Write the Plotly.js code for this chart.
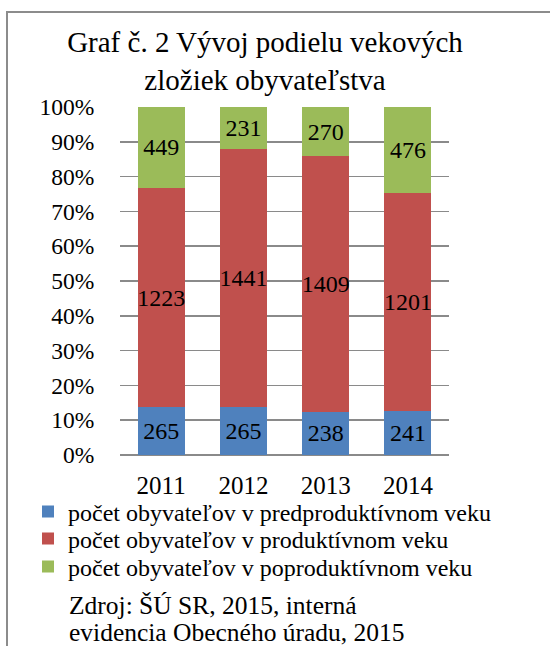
<!DOCTYPE html>
<html>
<head>
<meta charset="utf-8">
<script src="https://cdn.plot.ly/plotly-3.0.1.min.js"></script>
<style>
  html, body { margin: 0; padding: 0; background: #fff; }
  #chart { width: 550px; height: 646px; }
</style>
</head>
<body>
<div id="chart"></div>
<script>
const years = ['2011', '2012', '2013', '2014'];
const seriesNames = [
  'počet obyvateľov v predproduktívnom veku',
  'počet obyvateľov v produktívnom veku',
  'počet obyvateľov v poproduktívnom veku'
];
const predproduktivny = [265, 265, 238, 241];
const produktivny = [1223, 1441, 1409, 1201];
const poproduktivny = [449, 231, 270, 476];
const colors = ['#4F81BD', '#C0504D', '#9BBB59'];
const titleText = 'Graf č. 2 Vývoj podielu vekových<br>zložiek obyvateľstva';
const sourceLines = ['Zdroj: ŠÚ SR, 2015, interná', 'evidencia Obecného úradu, 2015'];

const serif = '"Liberation Serif", "DejaVu Serif", serif';
const values = [predproduktivny, produktivny, poproduktivny];
const legendIds = ['legend', 'legend2', 'legend3'];

const traces = values.map((v, i) => ({
  type: 'bar',
  name: seriesNames[i],
  legend: legendIds[i],
  x: years,
  y: v,
  text: v.map(String),
  textposition: 'inside',
  insidetextanchor: 'middle',
  textangle: 0,
  constraintext: 'none',
  textfont: { family: serif, size: 24, color: '#000' },
  marker: { color: colors[i], line: { width: 0 } },
  hoverinfo: 'none'
}));

// plot area: x 120..449, y 107..455
const L = 120, R = 101, T = 107, B = 191;
const PW = 550 - L - R, PH = 646 - T - B;
const px = v => (v - L) / PW;
const py = v => (646 - B - v) / PH;

const legendRowsY = [512, 539, 567];
const legendCommon = i => ({
  orientation: 'v',
  x: px(28), xanchor: 'left',
  y: py(legendRowsY[i]), yanchor: 'middle',
  font: { family: serif, size: 24, color: '#000' },
  bgcolor: 'rgba(0,0,0,0)', borderwidth: 0,
  itemclick: false, itemdoubleclick: false
});

const layout = {
  width: 550, height: 646,
  margin: { l: L, r: R, t: T, b: B, pad: 0 },
  paper_bgcolor: '#fff', plot_bgcolor: '#fff',
  barmode: 'stack',
  barnorm: 'percent',
  bargap: 0.43,
  showlegend: true,
  font: { family: serif, color: '#000' },
  title: {
    text: titleText,
    font: { family: serif, size: 29, color: '#000' },
    x: px(265), xref: 'paper', xanchor: 'center',
    y: 1 - 52 / 646, yref: 'container', yanchor: 'middle'
  },
  xaxis: {
    type: 'category',
    showline: false, showgrid: false, zeroline: false,
    ticks: 'outside', ticklen: 8, tickcolor: 'rgba(0,0,0,0)',
    tickfont: { family: serif, size: 25, color: '#000' }
  },
  yaxis: {
    range: [0, 100], dtick: 10, ticksuffix: '%',
    showgrid: true, gridcolor: '#8a8a8a', gridwidth: 1.5,
    zeroline: true, zerolinecolor: '#8a8a8a', zerolinewidth: 1.5,
    showline: false,
    ticks: 'outside', ticklen: 20, tickcolor: 'rgba(0,0,0,0)',
    tickfont: { family: serif, size: 23.5, color: '#000' }
  },
  legend: legendCommon(0),
  legend2: legendCommon(1),
  legend3: legendCommon(2),
  shapes: [{
    type: 'rect', xref: 'paper', yref: 'paper',
    x0: px(7), x1: px(560), y0: py(660), y1: py(12),
    line: { color: '#8c8c8c', width: 2 }, fillcolor: 'rgba(0,0,0,0)', layer: 'below'
  }],
  annotations: sourceLines.map((t, i) => ({
    text: t, xref: 'paper', yref: 'paper',
    x: px(67), xanchor: 'left',
    y: py(605 + i * 27), yanchor: 'middle',
    showarrow: false,
    font: { family: serif, size: 25.5, color: '#000' }
  }))
};

Plotly.newPlot('chart', traces, layout, { displayModeBar: false, staticPlot: true });
</script>
</body>
</html>
